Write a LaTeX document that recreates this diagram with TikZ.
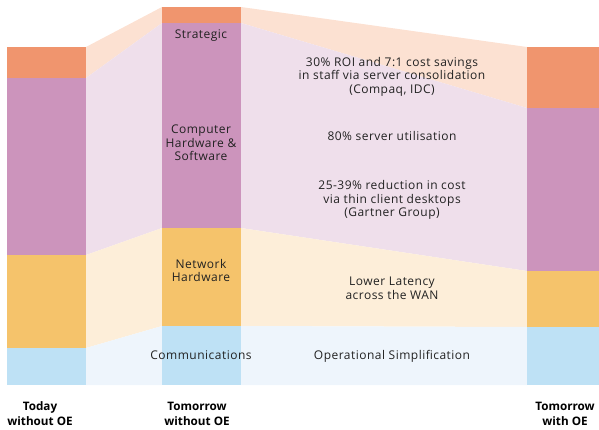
\documentclass[tikz,border=0pt]{standalone}
\usepackage{fontspec}
\setmainfont{Open Sans}
\newfontfamily\lblfont[LetterSpace=4]{Open Sans}
\definecolor{orD}{HTML}{F0956E}
\definecolor{puD}{HTML}{CC94BC}
\definecolor{yeD}{HTML}{F5C36B}
\definecolor{blD}{HTML}{BEE1F5}
\definecolor{orL}{HTML}{FCE1D2}
\definecolor{puL}{HTML}{EFDFEB}
\definecolor{yeL}{HTML}{FDEED9}
\definecolor{blL}{HTML}{EEF5FC}
\definecolor{txt}{HTML}{222222}
\begin{document}
\begin{tikzpicture}[x=1pt,y=-1pt,
  lbl/.style={align=center,text=txt,inner sep=0pt,font=\lblfont\fontsize{12}{13.5}\selectfont},
  captxt/.style={align=center,text=black,inner sep=0pt,font=\bfseries\fontsize{11.7}{15}\selectfont}]
\useasboundingbox (0,0) rectangle (599,430);
% left bands
\fill[orL] (86,47) -- (162,7) -- (162,23) -- (86,78) -- cycle;
\fill[puL] (86,78) -- (162,23) -- (162,228) -- (86,255) -- cycle;
\fill[yeL] (86,255) -- (162,228) -- (162,326) -- (86,348) -- cycle;
\fill[blL] (86,348) -- (162,326) -- (162,385) -- (86,385) -- cycle;
% right bands
\fill[orL] (241,7) -- (527,47) -- (527,108) -- (241,23) -- cycle;
\fill[puL] (241,23) -- (527,108) -- (527,271) -- (241,228) -- cycle;
\fill[yeL] (241,228) -- (527,271) -- (527,327) -- (241,326) -- cycle;
\fill[blL] (241,326) -- (527,327) -- (527,385) -- (241,385) -- cycle;
% bar 1
\fill[orD] (7,47) rectangle (86,78);
\fill[puD] (7,78) rectangle (86,255);
\fill[yeD] (7,255) rectangle (86,348);
\fill[blD] (7,348) rectangle (86,385);
% bar 2
\fill[orD] (162,7) rectangle (241,23);
\fill[puD] (162,23) rectangle (241,228);
\fill[yeD] (162,228) rectangle (241,326);
\fill[blD] (162,326) rectangle (241,385);
% bar 3
\fill[orD] (527,47) rectangle (599,108);
\fill[puD] (527,108) rectangle (599,271);
\fill[yeD] (527,271) rectangle (599,327);
\fill[blD] (527,327) rectangle (599,385);
% labels
\node[lbl] (strat) at (201,36) {Strategic};
\node[lbl] (chw) at (201,143) {Computer\\Hardware \&\\Software};
\node[lbl] (nhw) at (201,270.5) {Network\\Hardware};
\node[lbl] (comm) at (201,355) {Communications};
\node[lbl] (roi) at (392,76.5) {30\% ROI and 7:1 cost savings\\in staff via server consolidation\\(Compaq, IDC)};
\node[lbl] (util) at (392,136) {80\% server utilisation};
\node[lbl] (thin) at (392,200) {25-39\% reduction in cost\\via thin client desktops\\(Gartner Group)};
\node[lbl] (lat) at (392,288.5) {Lower Latency\\across the WAN};
\node[lbl] (ops) at (392,356) {Operational Simplification};
\node[captxt] (c1) at (40,413.5) {Today\\without OE};
\node[captxt] (c2) at (197,413.5) {Tomorrow\\without OE};
\node[captxt] (c3) at (565,413.5) {Tomorrow\\with OE};
\end{tikzpicture}
\end{document}
